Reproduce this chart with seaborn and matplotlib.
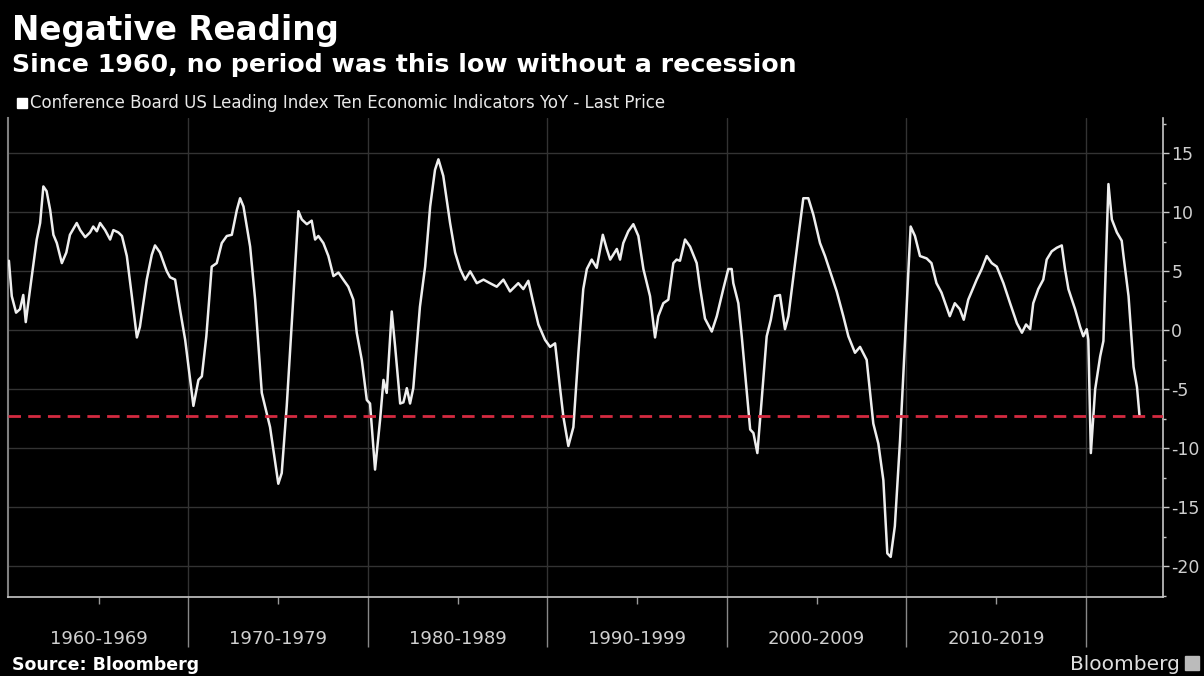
import matplotlib
matplotlib.use("Agg")
import matplotlib.pyplot as plt
import matplotlib.transforms as mtransforms
from matplotlib.patches import Rectangle
import seaborn as sns
import pandas as pd

# ---------------- data ----------------
years = [
    1960.00, 1960.16, 1960.40, 1960.62, 1960.80, 1960.94, 1961.18, 1961.55, 1961.74, 1961.92,
    1962.10, 1962.30, 1962.48, 1962.67, 1962.95, 1963.20, 1963.40, 1963.78, 1963.97, 1964.25,
    1964.52, 1964.70, 1964.90, 1965.08, 1965.36, 1965.64, 1965.82, 1966.10, 1966.30, 1966.57,
    1966.85, 1967.13, 1967.30, 1967.68, 1967.96, 1968.14, 1968.42, 1968.70, 1968.80, 1968.98,
    1969.26, 1969.54, 1969.82, 1970.10, 1970.28, 1970.56, 1970.75, 1971.00, 1971.30, 1971.58,
    1971.86, 1972.14, 1972.42, 1972.70, 1972.88, 1973.07, 1973.44, 1973.72, 1974.09, 1974.55,
    1975.01, 1975.20, 1975.48, 1975.76, 1976.13, 1976.32, 1976.60, 1976.87, 1977.06, 1977.24,
    1977.52, 1977.80, 1978.08, 1978.36, 1978.63, 1978.91, 1979.19, 1979.38, 1979.66, 1979.94,
    1980.12, 1980.40, 1980.68, 1980.87, 1981.05, 1981.33, 1981.52, 1981.80, 1981.98, 1982.17,
    1982.35, 1982.53, 1982.90, 1983.19, 1983.47, 1983.74, 1983.93, 1984.20, 1984.58, 1984.86,
    1985.14, 1985.42, 1985.70, 1986.07, 1986.44, 1986.80, 1987.18, 1987.55, 1987.92, 1988.38,
    1988.66, 1988.94, 1989.22, 1989.50, 1989.87, 1990.15, 1990.43, 1990.70, 1990.89, 1991.17,
    1991.45, 1991.73, 1992.00, 1992.20, 1992.47, 1992.75, 1993.09, 1993.31, 1993.50, 1993.87,
    1994.05, 1994.23, 1994.51, 1994.79, 1995.07, 1995.35, 1995.72, 1996.00, 1996.18, 1996.46,
    1996.74, 1997.02, 1997.20, 1997.39, 1997.67, 1997.95, 1998.32, 1998.50, 1998.78, 1999.16,
    1999.44, 1999.80, 2000.08, 2000.27, 2000.36, 2000.64, 2000.83, 2001.10, 2001.30, 2001.48,
    2001.70, 2001.94, 2002.22, 2002.45, 2002.68, 2002.96, 2003.24, 2003.43, 2003.71, 2003.99,
    2004.26, 2004.54, 2004.82, 2005.19, 2005.47, 2005.84, 2006.12, 2006.49, 2006.77, 2007.14,
    2007.42, 2007.79, 2008.16, 2008.44, 2008.72, 2008.94, 2009.13, 2009.36, 2009.65, 2009.93,
    2010.11, 2010.24, 2010.48, 2010.76, 2011.13, 2011.40, 2011.68, 2011.96, 2012.42, 2012.70,
    2012.98, 2013.20, 2013.45, 2013.92, 2014.20, 2014.48, 2014.76, 2015.04, 2015.41, 2015.78,
    2016.16, 2016.44, 2016.67, 2016.90, 2017.07, 2017.35, 2017.63, 2017.82, 2018.10, 2018.38,
    2018.66, 2018.84, 2019.03, 2019.40, 2019.68, 2019.86, 2020.05, 2020.14, 2020.28, 2020.52,
    2020.80, 2020.98, 2021.26, 2021.45, 2021.73, 2022.00, 2022.10, 2022.38, 2022.66, 2022.85,
    2022.99,
]
lei_yoy = [
    5.9, 2.9, 1.5, 1.8, 3.0, 0.7, 3.5, 7.7, 9.1, 12.2,
    11.8, 10.2, 8.1, 7.4, 5.7, 6.6, 8.1, 9.1, 8.5, 7.9,
    8.3, 8.8, 8.4, 9.1, 8.5, 7.7, 8.5, 8.3, 8.0, 6.3,
    2.9, -0.6, 0.3, 4.3, 6.4, 7.2, 6.6, 5.4, 5.0, 4.5,
    4.3, 1.7, -0.8, -4.2, -6.4, -4.2, -3.9, -0.5, 5.4, 5.7,
    7.4, 8.0, 8.1, 10.2, 11.2, 10.5, 7.1, 2.6, -5.3, -8.2,
    -13.0, -12.1, -6.4, 0.6, 10.1, 9.4, 9.0, 9.3, 7.7, 8.0,
    7.4, 6.3, 4.6, 4.9, 4.3, 3.7, 2.6, -0.2, -2.5, -5.9,
    -6.2, -11.8, -7.6, -4.2, -5.3, 1.6, -1.4, -6.2, -6.1, -4.9,
    -6.2, -4.9, 2.0, 5.4, 10.5, 13.6, 14.5, 13.1, 9.1, 6.6,
    5.2, 4.3, 5.0, 4.0, 4.3, 4.0, 3.7, 4.3, 3.3, 4.0,
    3.5, 4.2, 2.3, 0.5, -0.8, -1.4, -1.1, -4.8, -7.3, -9.8,
    -8.2, -1.9, 3.5, 5.2, 6.0, 5.3, 8.1, 6.9, 6.0, 6.9,
    6.0, 7.4, 8.4, 9.0, 8.0, 5.2, 2.9, -0.6, 1.2, 2.3,
    2.6, 5.7, 6.0, 5.9, 7.7, 7.1, 5.7, 3.7, 1.0, -0.1,
    1.2, 3.5, 5.2, 5.2, 4.0, 2.3, -0.5, -5.0, -8.4, -8.7,
    -10.4, -5.9, -0.5, 0.9, 2.9, 3.0, 0.1, 1.2, 4.6, 8.0,
    11.2, 11.2, 9.8, 7.4, 6.3, 4.6, 3.3, 1.2, -0.5, -1.9,
    -1.4, -2.5, -7.9, -9.6, -12.7, -18.9, -19.2, -16.6, -9.3, -0.8,
    4.9, 8.8, 8.0, 6.3, 6.1, 5.7, 4.0, 3.2, 1.2, 2.3,
    1.8, 0.9, 2.6, 4.3, 5.2, 6.3, 5.7, 5.4, 4.0, 2.3,
    0.6, -0.2, 0.5, 0.1, 2.3, 3.5, 4.3, 6.0, 6.7, 7.0,
    7.2, 5.2, 3.5, 1.8, 0.3, -0.5, 0.1, -0.8, -10.4, -5.0,
    -2.2, -0.9, 12.4, 9.4, 8.3, 7.6, 6.3, 2.9, -3.1, -4.8,
    -7.2,
]
threshold = -7.3
decade_starts = [1960, 1970, 1980, 1990, 2000, 2010, 2020]
decade_labels = ["1960-1969", "1970-1979", "1980-1989", "1990-1999",
                 "2000-2009", "2010-2019"]
y_ticks = [-20, -15, -10, -5, 0, 5, 10, 15]

title = "Negative Reading"
subtitle = "Since 1960, no period was this low without a recession"
series_name = "Conference Board US Leading Index Ten Economic Indicators YoY - Last Price"
source = "Source: Bloomberg"

# ---------------- style ----------------
sns.set_theme(style="dark", rc={
    "figure.facecolor": "black",
    "axes.facecolor": "black",
    "savefig.facecolor": "black",
})
plt.rcParams["font.family"] = ["DejaVu Sans"]

W, H = 1204, 676
fig = plt.figure(figsize=(W / 100, H / 100), dpi=100, facecolor="black")
ax = fig.add_axes([8 / W, 1 - 597 / H, (1163 - 8) / W, (597 - 118) / H])
ax.set_facecolor("black")

df = pd.DataFrame({"year": years, "value": lei_yoy})

# grid
for yv in y_ticks:
    ax.axhline(yv, color="#333333", lw=1.0, zorder=0)
for xv in decade_starts[1:]:
    ax.axvline(xv, color="#333333", lw=1.0, zorder=0)

sns.lineplot(data=df, x="year", y="value", ax=ax, color="#eeeeee",
             lw=1.8, zorder=3, legend=False)
ax.axhline(threshold, color="#d42a40", lw=2.0, dashes=(4.5, 2.6), zorder=4)

ax.set_xlim(1959.95, 2024.3)
ax.set_ylim(-22.6, 18.0)
ax.set_xlabel("")
ax.set_ylabel("")

# y axis on the right
ax.yaxis.tick_right()
ax.set_yticks(y_ticks)
ax.set_yticklabels([str(v) for v in y_ticks])
ax.set_yticks([v + 2.5 for v in y_ticks] + [y_ticks[0] - 2.5], minor=True)
ax.tick_params(axis="y", which="major", direction="out", length=4, width=1,
               color="#c8c8c8", labelcolor="#cfcfcf", labelsize=12.5, pad=2,
               right=True, left=False)
ax.tick_params(axis="y", which="minor", direction="out", length=2.5, width=1,
               color="#c8c8c8", right=True, left=False)

# x axis: decade separators + mid-decade minor ticks, labels centred in decades
ax.set_xticks(decade_starts[1:])
ax.set_xticklabels([])
ax.set_xticks([d + 5 for d in decade_starts[:-1]], minor=True)
ax.tick_params(axis="x", which="major", direction="out", length=36, width=1,
               color="#888888", bottom=True)
ax.tick_params(axis="x", which="minor", direction="out", length=5, width=1,
               color="#999999", bottom=True)

trans = mtransforms.blended_transform_factory(ax.transData, fig.transFigure)
for d, lab in zip(decade_starts[:-1], decade_labels):
    ax.text(d + 5, 1 - 644 / H, lab, transform=trans, ha="center", va="baseline",
            color="#d0d0d0", fontsize=13)

ax.spines["top"].set_visible(False)
ax.spines["right"].set_color("#c8c8c8")
ax.spines["right"].set_linewidth(1.2)
ax.spines["bottom"].set_color("#c8c8c8")
ax.spines["bottom"].set_linewidth(1.2)
ax.spines["left"].set_color("#808080")
ax.spines["left"].set_linewidth(1.5)

# titles and legend
fig.text(12 / W, 1 - 40 / H, title, color="white", fontsize=23.5, fontweight="bold",
         va="baseline", ha="left")
fig.text(12 / W, 1 - 72 / H, subtitle, color="white", fontsize=18.2, fontweight="bold",
         va="baseline", ha="left")
fig.patches.append(Rectangle((17 / W, 1 - 108 / H), 10 / W, 10 / H,
                             transform=fig.transFigure, color="white", figure=fig))
fig.text(30 / W, 1 - 108 / H, series_name, color="#e8e8e8", fontsize=12,
         va="baseline", ha="left")

fig.text(12 / W, 1 - 670 / H, source, color="white", fontsize=12.5, fontweight="bold",
         va="baseline", ha="left")
fig.text(1180 / W, 1 - 670 / H, "Bloomberg", color="#e0e0e0", fontsize=14.5,
         va="baseline", ha="right")
fig.patches.append(Rectangle((1185 / W, 1 - 670 / H), 14 / W, 14 / H,
                             transform=fig.transFigure, color="#bbbbbb", figure=fig))

fig.savefig("out.png", dpi=100, facecolor="black")
